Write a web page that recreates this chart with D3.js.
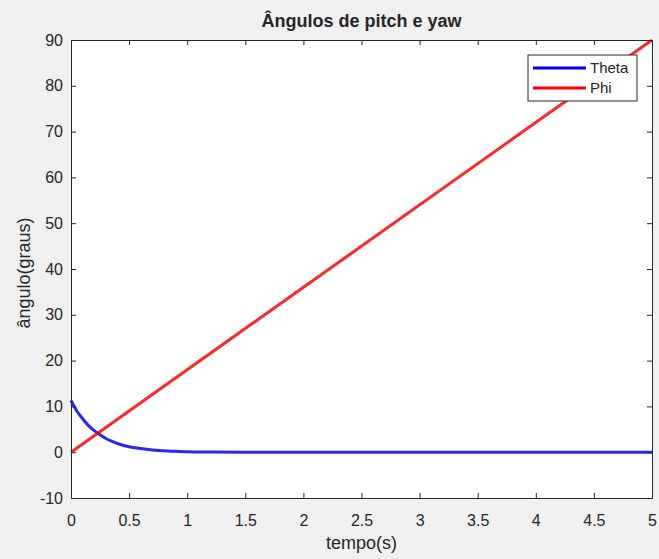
<!DOCTYPE html>
<html>
<head>
<meta charset="utf-8">
<script src="https://cdn.jsdelivr.net/npm/d3@7"></script>
<style>
  body { margin: 0; background: #f0f0f0; }
  text { font-family: "Liberation Sans", Arial, sans-serif; fill: #262626; }
</style>
</head>
<body>
<div id="chart"></div>
<script>
// data
const xTicks = [0, 0.5, 1, 1.5, 2, 2.5, 3, 3.5, 4, 4.5, 5];
const yTicks = [-10, 0, 10, 20, 30, 40, 50, 60, 70, 80, 90];
const thetaT = [0, 0.05, 0.1, 0.15, 0.2, 0.25, 0.3, 0.35, 0.4, 0.5, 0.6, 0.7, 0.8, 0.9, 1.0, 1.2, 1.5, 5];
const thetaV = [11.3, 9.0, 7.3, 5.8, 4.7, 3.8, 3.0, 2.4, 1.9, 1.2, 0.8, 0.5, 0.3, 0.2, 0.1, 0.04, 0, 0];
const phiT = [0, 5];
const phiV = [0, 90];

const W = 659, H = 559;
const m = { left: 71, right: 7, top: 40, bottom: 61 };

const svg = d3.select("#chart").append("svg")
  .attr("width", W).attr("height", H);

svg.append("rect").attr("width", W).attr("height", H).attr("fill", "#f0f0f0");

const x = d3.scaleLinear().domain([0, 5]).range([m.left, W - m.right]);
const y = d3.scaleLinear().domain([-10, 90]).range([H - m.bottom, m.top]);

svg.append("rect")
  .attr("x", m.left).attr("y", m.top)
  .attr("width", W - m.left - m.right).attr("height", H - m.top - m.bottom)
  .attr("fill", "#fff");

// lines
const line = d3.line().x(d => x(d[0])).y(d => y(d[1]));
const theta = thetaT.map((t, i) => [t, thetaV[i]]);
const phi = phiT.map((t, i) => [t, phiV[i]]);

svg.append("path").datum(theta).attr("d", d3.line().x(d => x(d[0])).y(d => y(d[1])).curve(d3.curveMonotoneX))
  .attr("fill", "none").attr("stroke", "#0000ff").attr("stroke-width", 3).attr("opacity", 0.85);
svg.append("path").datum(phi).attr("d", line)
  .attr("fill", "none").attr("stroke", "#ff0000").attr("stroke-width", 3).attr("opacity", 0.85);

// axes with inward ticks
const axisColor = "#262626";
const fmt = d => String(d);
const axB = svg.append("g").attr("transform", `translate(0,${H - m.bottom})`)
  .call(d3.axisBottom(x).tickValues(xTicks).tickSizeInner(-5).tickSizeOuter(0).tickPadding(17).tickFormat(fmt));
const axT = svg.append("g").attr("transform", `translate(0,${m.top})`)
  .call(d3.axisTop(x).tickValues(xTicks).tickSizeInner(-5).tickSizeOuter(0).tickFormat(""));
const axL = svg.append("g").attr("transform", `translate(${m.left},0)`)
  .call(d3.axisLeft(y).tickValues(yTicks).tickSizeInner(-5).tickSizeOuter(0).tickPadding(8).tickFormat(fmt));
const axR = svg.append("g").attr("transform", `translate(${W - m.right},0)`)
  .call(d3.axisRight(y).tickValues(yTicks).tickSizeInner(-5).tickSizeOuter(0).tickFormat(""));

[axB, axT, axL, axR].forEach(a => {
  a.selectAll("path, line").attr("stroke", axisColor);
  a.selectAll("text").style("font-size", "16px").attr("fill", "#404040");
});

// legend
const lg = svg.append("g").attr("transform", "translate(528,55)");
lg.append("rect").attr("width", 109).attr("height", 46)
  .attr("fill", "#fff").attr("stroke", axisColor);
const items = [["Theta", "#0000ff"], ["Phi", "#ff0000"]];
items.forEach((it, i) => {
  const yy = 13 + i * 20;
  lg.append("line").attr("x1", 5).attr("x2", 58).attr("y1", yy).attr("y2", yy)
    .attr("stroke", it[1]).attr("stroke-width", 3);
  lg.append("text").attr("x", 62).attr("y", yy + 5).style("font-size", "15px").text(it[0]);
});

// title and labels
svg.append("text").attr("x", (m.left + W - m.right) / 2).attr("y", 27)
  .attr("text-anchor", "middle").style("font-size", "18px").style("font-weight", "bold")
  .attr("fill", "#000").text("Ângulos de pitch e yaw");
svg.append("text").attr("x", (m.left + W - m.right) / 2).attr("y", 549)
  .attr("text-anchor", "middle").style("font-size", "18px").text("tempo(s)");
svg.append("text").attr("transform", `translate(30,273) rotate(-90)`)
  .attr("text-anchor", "middle").style("font-size", "18px").text("ângulo(graus)");
</script>
</body>
</html>
